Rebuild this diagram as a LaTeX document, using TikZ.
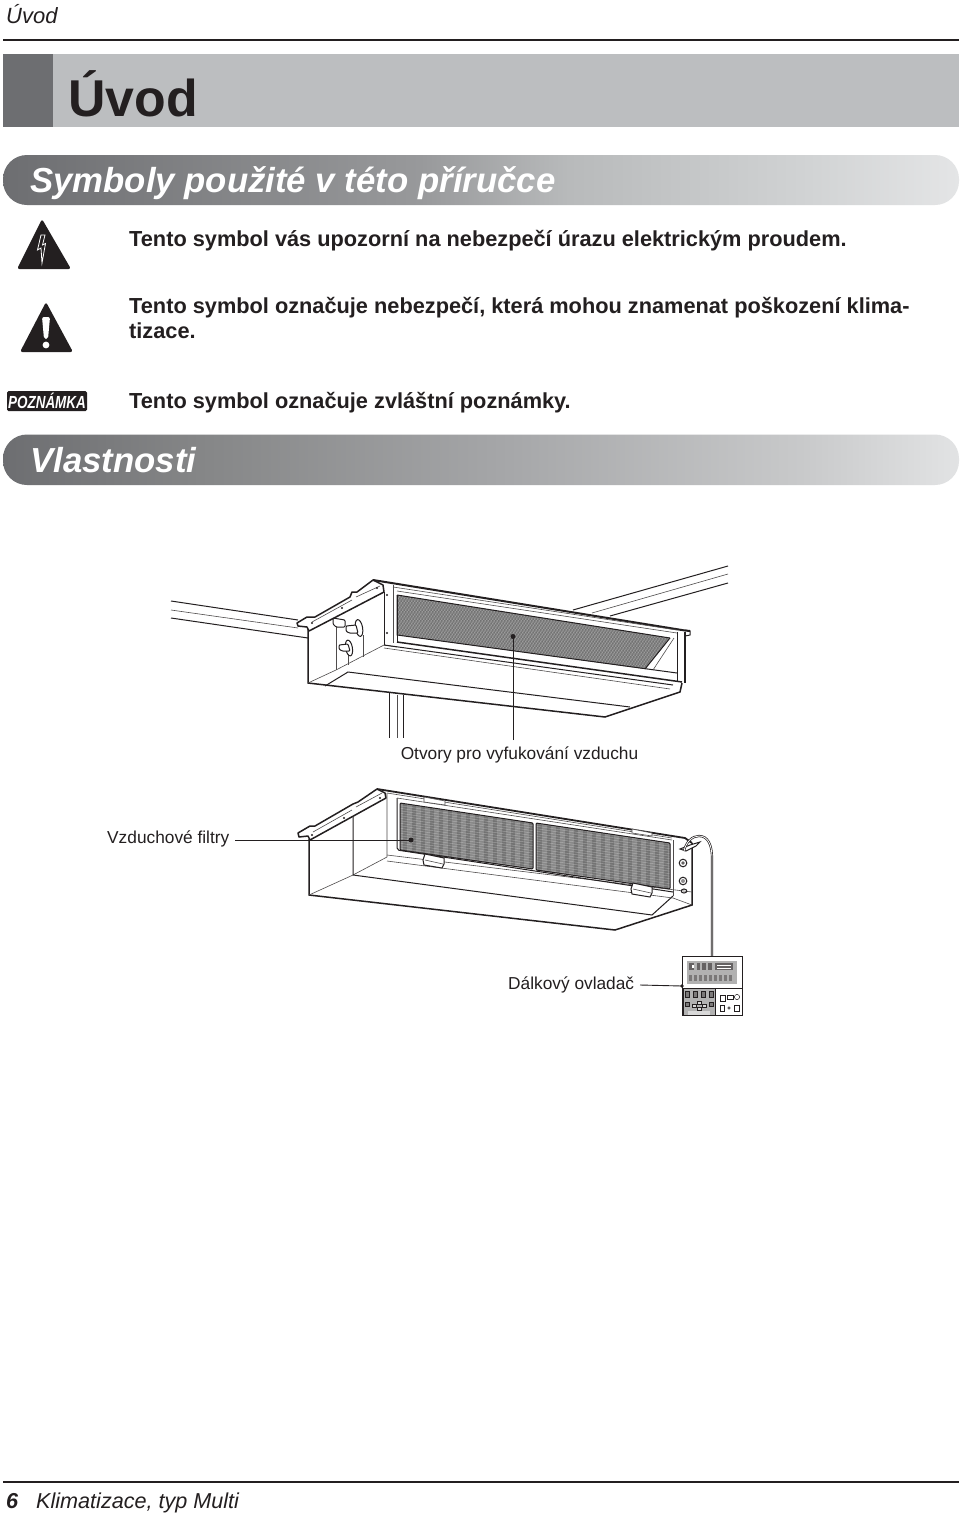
\documentclass[tikz,border=0pt]{standalone}
\usepackage{fontspec}
\setmainfont{Liberation Sans}
\definecolor{dk}{HTML}{6D6E71}
\definecolor{lt}{HTML}{BCBEC0}
\definecolor{ink}{HTML}{231F20}
\definecolor{pa1}{HTML}{98999B}
\definecolor{pa2}{HTML}{B8BABB}
\definecolor{pa3}{HTML}{D0D2D3}
\definecolor{pa4}{HTML}{E4E5E6}
\definecolor{pb1}{HTML}{858687}
\definecolor{pb2}{HTML}{A5A6A8}
\definecolor{pb3}{HTML}{C8C9CA}
\definecolor{pb4}{HTML}{E2E3E4}
\pgfdeclarehorizontalshading{pillA}{100bp}{color(0bp)=(dk); color(25bp)=(dk); color(46.8bp)=(pa1); color(54.6bp)=(pa2); color(66.7bp)=(pa3); color(75bp)=(pa4); color(100bp)=(pa4)}
\pgfdeclarehorizontalshading{pillB}{100bp}{color(0bp)=(dk); color(25bp)=(dk); color(35.3bp)=(pb1); color(51bp)=(pb2); color(66.7bp)=(pb3); color(75bp)=(pb4); color(100bp)=(pb4)}
\tikzset{
 body/.style={anchor=base west,inner sep=0pt,text=ink,font=\bfseries\fontsize{21.75}{21.75}\selectfont},
 lab/.style={inner sep=0pt,text=ink,font=\fontsize{17.3}{17.3}\selectfont},
 head/.style={anchor=base west,inner sep=0pt,text=white,font=\bfseries\itshape\fontsize{34.75}{34.75}\selectfont},
 rule/.style={line width=2pt,ink},
 heavy/.style={line width=1.5pt,ink},
 mid/.style={line width=1pt,ink},
 thin/.style={line width=.6pt,ink!80},
 leader/.style={line width=.9pt,ink},
 tip/.style={circle,fill=ink,inner sep=0pt,minimum size=5pt},
 rc/.style={line width=.5pt,ink}
}
\begin{document}
\begin{tikzpicture}[x=1pt,y=-1pt]
\useasboundingbox (0,0) rectangle (960,1515);
\fill[white] (0,0) rectangle (960,1515);
% header
\node[anchor=base west,inner sep=0pt,text=ink,font=\itshape\fontsize{22}{22}\selectfont] (hdr) at (6,23.5) {Úvod};
\draw[rule] (3,39.5) -- (959,39.5);
\fill[lt] (53,54) rectangle (959,127);
\fill[dk] (3,54) rectangle (53,127);
\node[anchor=base west,inner sep=0pt,text=ink,font=\bfseries\fontsize{51.8}{51.8}\selectfont] (title) at (68,116) {Úvod};
% pills
\shade[shading=pillA,rounded corners=24pt] (3,155) rectangle (959,205);
\node[head] (h1) at (30,192.5) {Symboly použité v této příručce};
\shade[shading=pillB,rounded corners=24pt] (3,434.5) rectangle (959,485);
\node[head] (h2) at (30,472) {Vlastnosti};
% symbols
\fill[ink,rounded corners=2.5pt] (42,219) -- (71,269) -- (17,269) -- cycle;
\draw[white,line width=.8pt,line join=miter,fill=ink] (41,235) -- (45,235) -- (42.5,245) -- (45.5,243.5) -- (42,263) -- (41,248) -- (37.5,250) -- cycle;
\fill[ink,rounded corners=2.5pt] (46,302) -- (73,352) -- (20,352) -- cycle;
\fill[white,rounded corners=2pt] (42,317) -- (50,317) -- (48,339) -- (44,339) -- cycle;
\fill[white] (46,345) circle (3.4);
\fill[ink,rounded corners=1.5pt] (7,391) rectangle (87,411);
\node[inner sep=0pt,text=white,font=\bfseries\itshape\fontsize{17.5}{17.5}\selectfont,xscale=.77] (note) at (47,401) {POZNÁMKA};
% body
\node[body] (t1) at (129,246) {Tento symbol vás upozorní na nebezpečí úrazu elektrickým proudem.};
\node[body] (t2) at (129,313) {Tento symbol označuje nebezpečí, která mohou znamenat poškození klima-};
\node[body] (t3) at (129,338.5) {tizace.};
\node[body] (t4) at (129,408) {Tento symbol označuje zvláštní poznámky.};

% ===== upper unit =====
% beams
\draw[mid] (171,601) -- (298,620);
\draw[thin] (171,610) -- (298,628);
\draw[mid] (171,618) -- (308,638);
\draw[mid] (573,610) -- (728,566);
\draw[thin] (592,613) -- (728,574);
\draw[mid] (610,616) -- (728,583);
\draw[mid] (389,693) -- (389,738);
\draw[thin] (397,695) -- (397,738);
\draw[mid] (403,695) -- (403,738);
% body
\fill[white] (308,628) -- (384,592) -- (677,632) -- (682,683) -- (680,692) -- (605,717) -- (308,683) -- cycle;
% filter opening
\fill[black!50] (397,595) -- (670,638) -- (645,669) -- (397,635) -- cycle;
\begin{scope}
\clip (397,595) -- (670,638) -- (645,669) -- (397,635) -- cycle;
\foreach \k in {0,3,...,360} {
 \draw[white,line width=.3pt,opacity=.4] (380+\k,590) -- (380+\k-60,680);
 \draw[black,line width=.3pt,opacity=.2] (340+\k,590) -- (340+\k+60,680);}
\end{scope}
\draw[mid] (397,595) -- (397,635) -- (677,673);
\draw[mid] (397,595) -- (670,638);
\draw[mid] (645,669) -- (670,638);
\draw[thin] (653,670) -- (674,638);
% outline
\draw[heavy] (308,628) -- (308,683) -- (605,717) -- (680,692) -- (682,683);
\draw[thin] (308,683) -- (336,670) -- (384,645);
\draw[mid] (325,686) -- (348,672) -- (630,707);
\draw[thin] (336,623) -- (336,670);
\draw[thin] (363,635) -- (363,657);
\draw[thin] (348,655) -- (348,665);
\draw[mid] (384,592) -- (384,645);
\draw[thin] (393,585) -- (393,643);
\draw[mid] (397,595) -- (397,642);
% flange
\draw[heavy,fill=white,line join=round] (297,623) -- (307,617) -- (315,617) -- (350,597) -- (352,592) -- (357,592) -- (373,580) -- (383,585) -- (384,592) -- (309,631) -- (307,627) -- (298,626) -- cycle;
\draw[thin] (312,622) -- (352,600);
\draw[thin] (356,597) -- (380,586);
\foreach \hx/\hy in {312/623,342/608,377/588,387/595,387/633} \fill[ink] (\hx,\hy) circle (1.1);
% top edges
\draw[line width=2pt,ink] (373,580) -- (685,630.5) -- (690,631);
\draw[thin] (393,587) -- (677,630);
\draw[thin] (397,591) -- (677,633);
\draw[thin] (384,645) -- (397,647);
\draw[heavy] (397,642) -- (682,682);
\draw[mid] (384,645) -- (673,685);
\draw[thin] (384,648) -- (670,689);
\draw[mid] (677,632) -- (677,682);
\draw[heavy] (685,632) -- (685,683);
\draw[mid] (685,630) -- (690,631) -- (690,635) -- (685,636);
% valves
\draw[mid,fill=white,rounded corners=1pt] (333,618) -- (345,620) -- (345,627) -- (336,627) -- (333,624) -- cycle;
\draw[mid,fill=white,rotate around={10:(359,628)}] (359,628) ellipse (3.6 and 8.5);
\draw[mid,fill=white,rounded corners=1pt] (346,626) -- (356,625) -- (358,633) -- (349,633) -- (346,631) -- cycle;
\draw[mid,fill=white,rotate around={10:(349,648)}] (349,648) ellipse (3.4 and 8);
\draw[mid,fill=white,rounded corners=1pt] (339,645) -- (348,644) -- (350,651) -- (342,651) -- (339,649) -- cycle;
% leader upper
\node[lab,anchor=base] (outlet) at (519.5,759.5) {Otvory pro vyfukování vzduchu};
\coordinate (outletPt) at (513,636.5);
\draw[leader] (513,740) -- (outletPt);
\node[tip] at (outletPt) {};

% ===== lower unit =====
\fill[white] (309,839) -- (387,793) -- (692,843) -- (692,905) -- (615,930) -- (309,895) -- cycle;
\draw[heavy] (309,839) -- (309,895) -- (615,930) -- (692,905) -- (692,843);
\draw[thin] (309,895) -- (353,875) -- (387,857) -- (387,793);
\draw[mid] (353,817) -- (353,875) -- (652,915) -- (673,896);
\draw[thin] (387,855) -- (692,892);
\draw[thin] (387,861) -- (673,898);
\draw[thin] (673,898) -- (692,905);
\draw[thin] (673,840) -- (673,896);
% flange
\draw[heavy,fill=white,line join=round] (298,833) -- (310,826) -- (315,826) -- (353,804) -- (358,802) -- (377,789) -- (385,793) -- (386,798) -- (310,840) -- (308,836) -- (299,837) -- cycle;
\draw[thin] (313,832) -- (352,810);
\draw[thin] (356,807) -- (382,793);
\foreach \hx/\hy in {312/835,344/818,380/798} \fill[ink] (\hx,\hy) circle (1.1);
\draw[line width=1.8pt,ink] (377,789) -- (685,838) -- (692,843);
\draw[thin] (387,793) -- (672,838);
% filter frame
\draw[mid,rounded corners=2pt] (397,798) -- (397,850) -- (673,892);
\draw[thin] (397,798) -- (672,840);
% filter panels
\foreach \xa/\ya/\xb/\yb/\yc/\yd in {400/803/533/823/869/850,536/823/670/843/889/870} {
 \fill[black!55] (\xa,\ya) -- (\xb,\yb) -- (\xb,\yc) -- (\xa,\yd) -- cycle;
 \begin{scope}
 \clip (\xa,\ya) -- (\xb,\yb) -- (\xb,\yc) -- (\xa,\yd) -- cycle;
 \foreach \k in {0,9,...,280} \fill[white,opacity=.16] (398+\k,795) rectangle (402.5+\k,895);
 \foreach \k in {0,2.5,...,100} \draw[white,line width=.4pt,opacity=.35] (395,795+\k) -- (675,837+\k);
 \end{scope}
 \draw[mid,rounded corners=1pt] (\xa,\ya) -- (\xb,\yb) -- (\xb,\yc) -- (\xa,\yd) -- cycle;
}
% latches
\foreach \lx/\ly in {434/860,642/889} {
 \begin{scope}[shift={(\lx,\ly)}]
 \draw[mid,fill=white] (-9,-6) -- (10,-2) -- (10,4) -- (8,8) -- (-10,5) -- (-11,0) -- cycle;
 \draw[thin] (-9,0) -- (9,4);
 \end{scope}}
% top tabs
\draw[thin,fill=white] (424,797) -- (445,801) -- (445,805) -- (424,802) -- cycle;
\draw[thin,fill=white] (632,829) -- (652,833) -- (652,836) -- (632,833) -- cycle;
% side connectors
\draw[mid] (683,863) circle (3.8);
\fill[ink!70] (683,863) circle (1.8);
\draw[mid] (683,881) circle (3.8);
\fill[ink!50] (683,881) circle (2);
\draw[mid] (684,891) ellipse (2.8 and 2);
\draw[mid,fill=white] (680,849) -- (690,845) -- (700,842) -- (696,846) -- (686,851) -- cycle;
% cable
\coordinate (cableA) at (684,851);
\coordinate (rcTop) at (712,956);
\draw[line width=2.2pt,ink] (cableA) .. controls (686,842) and (692,836) .. (699,836) .. controls (708,836) and (712,845) .. (712,858) -- (rcTop);
\draw[line width=.8pt,white] (cableA) .. controls (686,842) and (692,836) .. (699,836) .. controls (708,836) and (712,845) .. (712,858) -- (rcTop);
% leader lower
\node[lab,anchor=base west] (filters) at (107,843) {Vzduchové filtry};
\coordinate (filterPt) at (411,840);
\draw[leader] (235,840) -- (filterPt);
\node[tip] at (filterPt) {};

% ===== remote =====
\draw[line width=1pt,ink,fill=white] (682,956) rectangle (742,1015);
\fill[black!30] (687,961) rectangle (737,984);
\foreach \x/\w in {689/5,697/3,702/4,708/4,715/18} \fill[ink!70] (\x,963) rectangle (\x+\w,970);
\foreach \x in {689,694,...,733} \fill[ink!60] (\x,975) rectangle (\x+3,981);
\fill[white] (692,965) rectangle (694,968);
\fill[white] (717,965) rectangle (731,966);
\fill[white] (717,968) rectangle (731,969);
\draw[mid] (682,988) -- (742,988);
\fill[black!30] (683,988) rectangle (715,1015);
\draw[mid] (683,988) rectangle (715,1015);
\foreach \x in {686,694,702,710} \draw[rc,fill=ink!60] (\x-1,991) rectangle (\x+3,997);
\foreach \qx/\qy in {697/1001,692/1004,702/1004,697/1007} \draw[rc,fill=black!15] (\qx,\qy) rectangle +(4,3);
\draw[rc,fill=ink!60] (685,1002) rectangle +(4,4);
\draw[rc,fill=ink!60] (709,1002) rectangle +(4,4);
\fill[black!15] (688,1011) rectangle (710,1015);
\draw[rc] (720,995) rectangle +(5,6);
\draw[rc] (727,995) rectangle +(6,4);
\draw[rc] (737,997) circle (2.6);
\draw[rc] (720,1005) rectangle +(4,6);
\draw[rc] (729,1008) circle (1.3);
\draw[rc] (734,1005) rectangle +(5,6);
\node[lab,anchor=base west] (remote) at (508,989) {Dálkový ovladač};
\coordinate (remotePt) at (682,986);
\draw[leader] (640,985) -- (remotePt);
\fill[ink] (remotePt) circle (1.8);

% footer
\draw[rule] (3,1481.5) -- (959,1481.5);
\node[anchor=base west,inner sep=0pt,text=ink,font=\bfseries\itshape\fontsize{21.6}{21.6}\selectfont] (pg) at (6,1508) {6};
\node[anchor=base west,inner sep=0pt,text=ink,font=\itshape\fontsize{21.6}{21.6}\selectfont] (foot) at (36,1508) {Klimatizace, typ Multi};
\end{tikzpicture}
\end{document}
